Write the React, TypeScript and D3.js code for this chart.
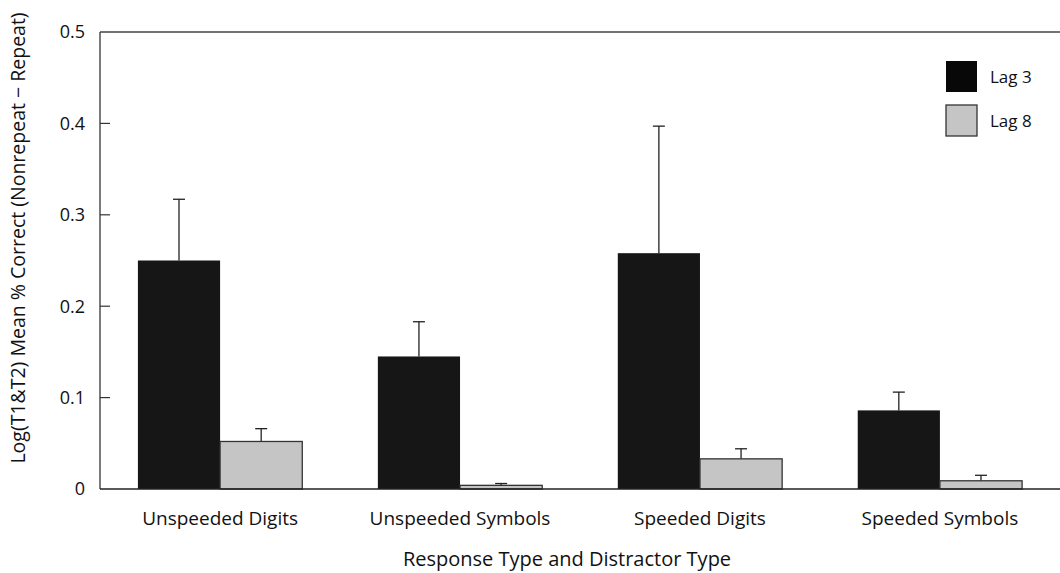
import { useEffect, useRef } from "react";
import * as d3 from "d3";

const categories = ["Unspeeded Digits", "Unspeeded Symbols", "Speeded Digits", "Speeded Symbols"];
const seriesNames = ["Lag 3", "Lag 8"];
const lag3 = [0.25, 0.145, 0.258, 0.086];
const lag3Err = [0.317, 0.183, 0.397, 0.106];
const lag8 = [0.052, 0.004, 0.033, 0.009];
const lag8Err = [0.066, 0.006, 0.044, 0.015];
const yTicks = [0, 0.1, 0.2, 0.3, 0.4, 0.5];

const W = 1060;
const H = 573;
const m = { left: 100, right: 0, top: 32, bottom: 84 };
const colors = ["#161616", "#c4c5c4"];
const font = "'Open Sans', 'Noto Sans', sans-serif";

const App = () => {
  const ref = useRef<SVGSVGElement>(null);

  useEffect(() => {
    const svg = d3.select(ref.current);
    svg.selectAll("*").remove();

    const iw = W - m.left - m.right;
    const ih = H - m.top - m.bottom;
    const g = svg.append("g").attr("transform", `translate(${m.left},${m.top})`);

    const x0 = d3.scaleBand().domain(categories).range([0, iw]).paddingInner(0.315).paddingOuter(0.158);
    const x1 = d3.scaleBand().domain(seriesNames).range([0, x0.bandwidth()]);
    const y = d3.scaleLinear().domain([0, 0.5]).range([ih, 0]);

    const rows = categories.map((c, i) => ({
      c,
      vals: [
        { s: seriesNames[0], v: lag3[i], e: lag3Err[i] },
        { s: seriesNames[1], v: lag8[i], e: lag8Err[i] },
      ],
    }));

    // error bars (drawn first so bar covers the stem base)
    rows.forEach((r) => {
      r.vals.forEach((d) => {
        const cx = (x0(r.c) as number) + (x1(d.s) as number) + x1.bandwidth() / 2;
        g.append("line")
          .attr("x1", cx).attr("x2", cx)
          .attr("y1", y(d.v)).attr("y2", y(d.e))
          .attr("stroke", "#222").attr("stroke-width", 1.3);
        g.append("line")
          .attr("x1", cx - 6).attr("x2", cx + 6)
          .attr("y1", y(d.e)).attr("y2", y(d.e))
          .attr("stroke", "#222").attr("stroke-width", 1.3);
      });
    });

    rows.forEach((r) => {
      r.vals.forEach((d, j) => {
        g.append("rect")
          .attr("x", (x0(r.c) as number) + (x1(d.s) as number))
          .attr("y", y(d.v))
          .attr("width", x1.bandwidth())
          .attr("height", ih - y(d.v))
          .attr("fill", colors[j])
          .attr("stroke", j === 0 ? "#161616" : "#333")
          .attr("stroke-width", j === 0 ? 0 : 1.3);
      });
    });

    // frame: left axis, top line, bottom line
    g.append("line").attr("x1", 0).attr("x2", 0).attr("y1", 0).attr("y2", ih).attr("stroke", "#333").attr("stroke-width", 1.3);
    g.append("line").attr("x1", 0).attr("x2", iw).attr("y1", 0).attr("y2", 0).attr("stroke", "#444").attr("stroke-width", 1.3);
    g.append("line").attr("x1", 0).attr("x2", iw).attr("y1", ih).attr("y2", ih).attr("stroke", "#222").attr("stroke-width", 1.3);

    // y ticks inward
    yTicks.forEach((t) => {
      if (t > 0 && t < 0.5) {
        g.append("line").attr("x1", 0).attr("x2", 10).attr("y1", y(t)).attr("y2", y(t)).attr("stroke", "#333").attr("stroke-width", 1.2);
      }
      g.append("text")
        .attr("x", -15)
        .attr("y", y(t))
        .attr("dy", "0.35em")
        .attr("text-anchor", "end")
        .attr("font-family", font)
        .attr("font-size", 18)
        .attr("fill", "#111")
        .text(t === 0 ? "0" : d3.format(".1f")(t));
    });

    // category labels
    categories.forEach((c) => {
      g.append("text")
        .attr("x", (x0(c) as number) + x0.bandwidth() / 2)
        .attr("y", ih + 36)
        .attr("text-anchor", "middle")
        .attr("font-family", font)
        .attr("font-size", 19)
        .attr("fill", "#111")
        .text(c);
    });

    // axis titles
    svg.append("text")
      .attr("x", 567)
      .attr("y", 566)
      .attr("text-anchor", "middle")
      .attr("font-family", font)
      .attr("font-size", 20)
      .attr("fill", "#111")
      .text("Response Type and Distractor Type");

    svg.append("text")
      .attr("transform", `translate(25,238) rotate(-90)`)
      .attr("text-anchor", "middle")
      .attr("font-family", font)
      .attr("font-size", 19.5)
      .attr("fill", "#111")
      .text("Log(T1&T2) Mean % Correct (Nonrepeat \u2212 Repeat)");

    // legend
    seriesNames.forEach((s, i) => {
      const ly = 61 + i * 44;
      svg.append("rect")
        .attr("x", 946).attr("y", ly).attr("width", 31).attr("height", 31)
        .attr("fill", i === 0 ? "#080808" : colors[1])
        .attr("stroke", "#333").attr("stroke-width", i === 0 ? 0 : 1.3);
      svg.append("text")
        .attr("x", 990).attr("y", ly + 16).attr("dy", "0.35em")
        .attr("font-family", font).attr("font-size", 17).attr("fill", "#111")
        .text(s);
    });
  }, []);

  return (
    <svg ref={ref} width={W} height={H} style={{ position: "absolute", left: 0, top: 0, background: "#fff" }} />
  );
};

export default App;
